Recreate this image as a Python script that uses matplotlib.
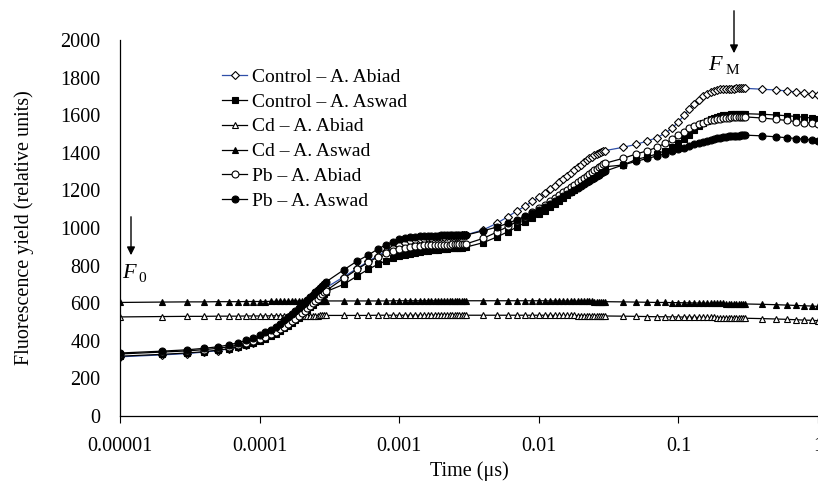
import matplotlib
matplotlib.use("Agg")
import matplotlib.pyplot as plt
import numpy as np

plt.rcParams["font.family"] = ["Liberation Serif", "DejaVu Serif"]

# sampling times (microseconds) of the fluorometer
t_us = [10, 20, 30, 40, 50, 60, 70, 80, 90, 100,
        110, 120, 130, 140, 150, 160, 170, 180, 190, 200,
        210, 220, 230, 240, 250, 260, 270, 280, 290, 300,
        400, 500, 600, 700, 800, 900, 1000, 1100, 1200, 1300,
        1400, 1500, 1600, 1700, 1800, 1900, 2000, 2100, 2200, 2300,
        2400, 2500, 2600, 2700, 2800, 2900, 3000,
        4000, 5000, 6000, 7000, 8000, 9000, 10000, 11000, 12000, 13000,
        14000, 15000, 16000, 17000, 18000, 19000, 20000, 21000, 22000, 23000,
        24000, 25000, 26000, 27000, 28000, 29000, 30000,
        40000, 50000, 60000, 70000, 80000, 90000, 100000, 110000, 120000, 130000,
        140000, 150000, 160000, 170000, 180000, 190000, 200000, 210000, 220000, 230000,
        240000, 250000, 260000, 270000, 280000, 290000, 300000,
        400000, 500000, 600000, 700000, 800000, 900000, 1000000]
t = np.array(t_us) / 1e6

control_abiad = [315, 325, 332, 340, 348, 357, 367, 378, 390, 403,
                 416, 430, 444, 459, 474, 489, 504, 519, 534, 549,
                 564, 579, 594, 608, 622, 635, 648, 660, 672, 683,
                 740, 785, 822, 852, 876, 895, 910, 921, 929, 935,
                 940, 944, 947, 949, 951, 952, 953, 954, 955, 956,
                 957, 958, 959, 960, 961, 962, 963,
                 990, 1025, 1060, 1092, 1117, 1142, 1163, 1185, 1205, 1225,
                 1244, 1262, 1279, 1295, 1310, 1324, 1337, 1349, 1360, 1370,
                 1379, 1387, 1394, 1400, 1405, 1409, 1412,
                 1429, 1445, 1463, 1480, 1504, 1530, 1565, 1600, 1632, 1660,
                 1683, 1700, 1713, 1722, 1729, 1734, 1737, 1739, 1740, 1741,
                 1742, 1742, 1743, 1743, 1743, 1743, 1743,
                 1738, 1734, 1729, 1723, 1718, 1712, 1706]

control_aswad = [318, 328, 335, 342, 350, 358, 367, 377, 388, 400,
                 412, 425, 438, 452, 466, 480, 494, 508, 522, 536,
                 550, 564, 578, 591, 604, 616, 628, 640, 651, 662,
                 700, 745, 780, 806, 825, 839, 850, 858, 864, 869,
                 873, 876, 879, 881, 883, 885, 887, 888, 890, 891,
                 892, 893, 894, 895, 896, 897, 898,
                 922, 952, 980, 1006, 1030, 1052, 1073, 1093, 1111, 1128,
                 1144, 1160, 1175, 1189, 1203, 1216, 1228, 1240, 1251, 1262,
                 1272, 1282, 1292, 1301, 1310, 1318, 1326,
                 1335, 1365, 1379, 1394, 1411, 1429, 1450, 1471, 1495, 1521,
                 1542, 1558, 1570, 1579, 1586, 1592, 1596, 1599, 1601, 1603,
                 1604, 1605, 1606, 1607, 1607, 1608, 1608,
                 1605, 1601, 1597, 1593, 1589, 1585, 1581]

cd_abiad = [527, 529, 530, 530, 531, 531, 531, 532, 532, 532,
            532, 533, 533, 533, 533, 533, 533, 534, 534, 534,
            534, 534, 534, 534, 534, 534, 535, 535, 535, 535,
            535, 535, 535, 536, 536, 536, 536, 536, 536, 536,
            536, 536, 536, 536, 536, 536, 536, 536, 536, 536,
            536, 536, 536, 536, 536, 536, 536,
            536, 536, 536, 536, 536, 536, 536, 536, 536, 535,
            535, 535, 535, 535, 535, 534, 534, 534, 534, 534,
            533, 533, 533, 533, 532, 532, 532,
            531, 530, 529, 528, 528, 527, 527, 526, 526, 525,
            525, 525, 524, 524, 524, 523, 523, 523, 522, 522,
            522, 522, 521, 521, 521, 520, 520,
            518, 516, 514, 512, 510, 509, 507]

cd_aswad = [604, 606, 607, 607, 608, 608, 608, 609, 609, 609,
            609, 610, 610, 610, 610, 610, 610, 611, 611, 611,
            611, 611, 611, 611, 611, 612, 612, 612, 612, 612,
            612, 612, 612, 612, 612, 613, 613, 613, 613, 613,
            613, 613, 613, 613, 613, 613, 613, 613, 613, 613,
            613, 613, 613, 613, 613, 613, 613,
            613, 613, 613, 613, 613, 613, 613, 613, 612, 612,
            612, 612, 612, 611, 611, 611, 611, 610, 610, 610,
            610, 609, 609, 609, 608, 608, 608,
            607, 606, 605, 604, 604, 603, 603, 602, 602, 601,
            601, 601, 600, 600, 600, 599, 599, 599, 598, 598,
            598, 598, 597, 597, 597, 596, 596,
            594, 592, 590, 588, 586, 585, 583]

pb_abiad = [330, 340, 346, 353, 360, 368, 377, 387, 398, 410,
            422, 435, 448, 462, 476, 490, 504, 518, 532, 546,
            560, 574, 587, 600, 612, 624, 636, 647, 657, 667,
            732, 780, 818, 845, 865, 879, 889, 896, 900, 903,
            905, 907, 908, 909, 910, 910, 911, 911, 912, 912,
            913, 913, 914, 914, 915, 915, 915,
            945, 978, 1008, 1035, 1060, 1083, 1104, 1124, 1142, 1159,
            1175, 1190, 1204, 1218, 1231, 1244, 1256, 1267, 1278, 1288,
            1298, 1307, 1316, 1324, 1332, 1339, 1345,
            1370, 1394, 1411, 1429, 1450, 1471, 1495, 1512, 1530, 1543,
            1553, 1561, 1567, 1572, 1576, 1579, 1582, 1584, 1586, 1587,
            1588, 1589, 1590, 1590, 1591, 1591, 1591,
            1585, 1578, 1572, 1566, 1561, 1556, 1552]

pb_aswad = [335, 345, 352, 360, 368, 378, 390, 402, 415, 430,
            445, 460, 476, 492, 508, 524, 540, 556, 572, 588,
            603, 618, 632, 646, 659, 671, 683, 694, 704, 714,
            777, 824, 856, 887, 910, 927, 940, 946, 950, 953,
            955, 957, 958, 959, 960, 960, 961, 961, 961, 961,
            961, 961, 961, 962, 962, 962, 962,
            985, 1005, 1025, 1045, 1063, 1080, 1097, 1112, 1127, 1141,
            1155, 1168, 1180, 1192, 1203, 1214, 1224, 1234, 1243, 1252,
            1260, 1268, 1276, 1283, 1290, 1297, 1303,
            1335, 1355, 1370, 1383, 1395, 1407, 1418, 1428, 1437, 1445,
            1452, 1458, 1464, 1469, 1473, 1477, 1480, 1483, 1485, 1487,
            1489, 1490, 1491, 1492, 1493, 1493, 1494,
            1490, 1485, 1480, 1476, 1472, 1468, 1464]

xticks = [1e-5, 1e-4, 1e-3, 1e-2, 1e-1, 1]
xtick_labels = ["0.00001", "0.0001", "0.001", "0.01", "0.1", "1"]

series = [
    ("Control – A. Abiad", control_abiad, "D", "white", "#2f4fa8", 4.0),
    ("Control – A. Aswad", control_aswad, "s", "black", "black", 4.5),
    ("Cd – A. Abiad", cd_abiad, "^", "white", "black", 5.0),
    ("Cd – A. Aswad", cd_aswad, "^", "black", "black", 5.0),
    ("Pb – A. Abiad", pb_abiad, "o", "white", "black", 5.0),
    ("Pb – A. Aswad", pb_aswad, "o", "black", "black", 5.0),
]

W, H = 818, 488
fig = plt.figure(figsize=(W / 100, H / 100), dpi=100)
ax = fig.add_axes([120 / W, 72 / H, 698 / W, 376 / H])

for label, vals, mk, face, lc, ms in series:
    ax.plot(t, vals, color=lc, lw=0.9, marker=mk, ms=ms,
            markerfacecolor=face, markeredgecolor="black",
            markeredgewidth=0.8, label=label)

ax.set_xscale("log")
ax.set_xlim(1e-5, 1)
ax.set_ylim(0, 2000)
ax.set_xticks(xticks)
ax.set_xticklabels(xtick_labels)
ax.minorticks_off()
ax.set_yticks(range(0, 2001, 200))
ax.tick_params(axis="x", direction="out", length=5, width=0.8, pad=10, labelsize=14.5)
ax.tick_params(axis="y", length=0, pad=14, labelsize=14.5)
for s in ["top", "right"]:
    ax.spines[s].set_visible(False)
for s in ["left", "bottom"]:
    ax.spines[s].set_linewidth(0.9)

ax.set_xlabel("Time (μs)", fontsize=14.5, labelpad=4)
ax.set_ylabel("Fluorescence yield (relative units)", fontsize=14.5, labelpad=19)

fig.legend(loc="upper left", bbox_to_anchor=(222 / W, 1 - 68 / H),
           frameon=False, fontsize=14, borderpad=0, borderaxespad=0,
           handlelength=1.3, handletextpad=0.25, labelspacing=0.375)

# F0 and FM arrows
ax.annotate("", xy=(131, H - 258), xytext=(131, H - 214),
            xycoords="figure pixels", textcoords="figure pixels",
            arrowprops=dict(arrowstyle="-|>", color="black", lw=1, mutation_scale=12),
            annotation_clip=False)
fig.text(122 / W, 1 - 273 / H, "F", fontsize=16, style="italic", va="center")
fig.text(138 / W, 1 - 279 / H, "0", fontsize=11, va="center")

ax.annotate("", xy=(734, H - 56), xytext=(734, H - 8),
            xycoords="figure pixels", textcoords="figure pixels",
            arrowprops=dict(arrowstyle="-|>", color="black", lw=1, mutation_scale=12),
            annotation_clip=False)
fig.text(708 / W, 1 - 66 / H, "F", fontsize=16, style="italic", va="center")
fig.text(726 / W, 1 - 71 / H, "M", fontsize=11, va="center")

fig.savefig("out.png", dpi=100)
